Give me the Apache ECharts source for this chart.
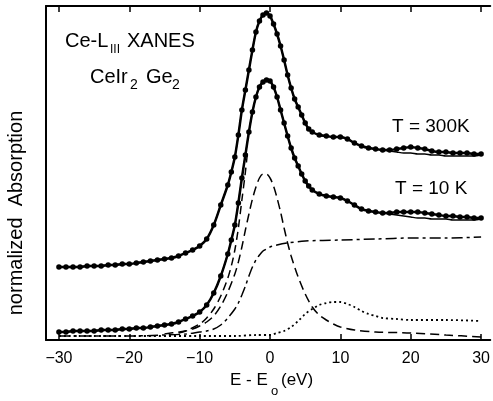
<!DOCTYPE html>
<html>
<head>
<meta charset="utf-8">
<script src="https://cdn.jsdelivr.net/npm/echarts@6/dist/echarts.min.js"></script>
<style>
html,body{margin:0;padding:0;background:#fff;}
#chart{width:493px;height:401px;}
</style>
</head>
<body>
<div id="chart"></div>
<script>
// Energy grid (E - E0, eV) for the measured spectra
var energyData = [-30,-29,-28,-27,-26,-25,-24,-23,-22,-21,-20,-19,-18,-17,-16,-15,-14,-13,-12,-11,-10,-9,-8,-7,-6,-5.5,-5,-4.5,-4,-3.5,-3,-2.5,-2,-1.5,-1,-0.5,0,0.5,1,1.5,2,2.5,3,3.5,4,4.5,5,5.5,6,7,8,9,10,11,12,13,14,15,16,17,18,19,20,21,22,23,24,25,26,27,28,29,30];
// T = 300 K measured absorption (arb. units)
var abs300K = [73,73,73,73,74,74,74,75,75,76,76,77,78,79,80,81,82,84,87,90,94,101,115,135,155,168,183,205,230,250,270,290,308,319,325,327,324,316,306,294,280,265,252,241,233,225,217,211,208,205,204,203,203,201,197,194,192,191,190,190,191,192,193,192,191,189,188,188,187,187,187,186,186];
// T = 300 K fit
var fit300K = [73,73,73,73,74,74,74,75,75,76,76,77,78,79,80,81,82,84,87,90,94,101,115,135,155,168,183,205,230,250,270,290,308,319,325,327,324,316,306,294,280,265,252,241,233,225,217,211,208,205,204,203,203,201,197,194,192,191,190,189,188,187,187,186,186,185,185,184,184,184,184,184,185];
// T = 10 K measured absorption
var abs10K = [8,8,9,9,9,9,10,10,10,11,11,12,12,13,14,15,16,18,21,24,28,35,47,64,86,100,115,137,162,185,208,228,243,253,258,260,259,253,243,230,217,204,192,182,174,166,159,154,150,146,144,143,142,139,135,131,129,128,127,127,128,128,128,128,127,126,125,124,124,123,123,122,122];
// T = 10 K fit
var fit10K = [8,8,9,9,9,9,10,10,10,11,11,12,12,13,14,15,16,18,21,24,28,35,47,64,86,100,115,137,162,185,208,228,243,253,258,260,259,253,243,230,217,204,192,182,174,166,159,154,150,146,144,143,142,139,135,131,129,128,127,126,125,124,123,122,122,121,121,121,120,120,120,120,121];

// White-line + edge partial sum (dashed, left side)
var sumE = [-13,-12,-10,-9,-8,-7,-6,-5.5,-5,-4.5,-4,-3.5,-3.2];
var sumAbs = [7,9,16,22,31,44,62,74,90,112,140,168,188];

// Lorentzian white line component
var lorE = [-15,-13,-12,-11,-10,-9,-8,-7,-6,-5,-4.5,-4,-3.5,-3,-2.5,-2,-1.5,-1,-0.5,0,0.5,1,1.5,2,2.5,3,3.5,4,5,6,7,8,9,10,12,15,20,25,30];
var lorAbs = [6,8,9,11,14,18,24,34,48,66,78,93,110,126,141,153,162,166,166,162,154,142,128,112,97,84,73,63,46,33,25,20,16,13,10,8,7,5,3];

// Arctangent edge step
var stepE = [-30,-20,-15,-12,-10,-9,-8,-7,-6,-5,-4.5,-4,-3.5,-3,-2.5,-2,-1.5,-1,-0.5,0,1,2.5,5,10,15,20,25,30];
var stepAbs = [4,4,5,6,8,9,11,15,22,31,37,45,54,64,73,80,85,89,91,93,95,97,99,100,101,102,102,103];

// Gaussian continuum resonance
var gauE = [-30,-20,-10,-5,-2,0,1,2,3,4,5,6,7,8,9,10,11,12,13,14,15,16,18,20,25,30];
var gauAbs = [4,4,4,4,5,5,7,9,13,19,26,31,35,37,38,38,36,33,29,26,24,22,21,20,20,19];

var xTicks = [-30,-20,-10,0,10,20,30];

function pairs(xs, ys){ return xs.map(function(x,i){ return [x, ys[i]]; }); }

var FONT = '"Liberation Sans", Arial, sans-serif';
var chart = echarts.init(document.getElementById('chart'));

var xCommon = {
  type:'value', min:-31.84, max:31.3,
  splitLine:{show:false},
  axisLine:{show:true, onZero:false, lineStyle:{color:'#000', width:2}},
  axisTick:{show:true, inside:true, length:6, customValues:xTicks, lineStyle:{color:'#000', width:1.5}}
};

chart.setOption({
  animation:false,
  backgroundColor:'#fff',
  grid:{left:46, right:0, top:6, bottom:61, containLabel:false},
  xAxis:[
    Object.assign({}, xCommon, {
      position:'bottom',
      axisLabel:{show:true, customValues:xTicks, margin:11, color:'#000', fontSize:16, fontFamily:FONT,
        formatter:function(v){ return String(v).replace('-', '\u2212'); }}
    }),
    Object.assign({}, xCommon, {
      position:'top',
      axisLabel:{show:false}
    })
  ],
  yAxis:{
    type:'value', min:0, max:334, position:'left',
    splitLine:{show:false},
    axisLine:{show:true, onZero:false, lineStyle:{color:'#000', width:2}},
    axisTick:{show:false}, axisLabel:{show:false}
  },
  series:[
    {type:'line', data:pairs(gauE, gauAbs), smooth:0.3, symbol:'none',
      lineStyle:{color:'#000', width:1.8, type:[2,3]}},
    {type:'line', data:pairs(stepE, stepAbs), smooth:0.3, symbol:'none',
      lineStyle:{color:'#000', width:1.5, type:[11,4,3,4]}},
    {type:'line', data:pairs(lorE, lorAbs), smooth:0.3, symbol:'none',
      lineStyle:{color:'#000', width:1.5, type:[9,5]}},
    {type:'line', data:pairs(sumE, sumAbs), smooth:0.3, symbol:'none',
      lineStyle:{color:'#000', width:1.5, type:[8,5]}},
    {type:'line', data:pairs(energyData, fit300K), smooth:0.3, symbol:'none',
      lineStyle:{color:'#000', width:1.3}},
    {type:'line', data:pairs(energyData, fit10K), smooth:0.3, symbol:'none',
      lineStyle:{color:'#000', width:1.3}},
    {type:'line', data:pairs(energyData, abs300K), smooth:0.3, symbol:'circle', symbolSize:5.5, showAllSymbol:true,
      itemStyle:{color:'#000'}, lineStyle:{color:'#000', width:2.5}},
    {type:'line', data:pairs(energyData, abs10K), smooth:0.3, symbol:'circle', symbolSize:5.5, showAllSymbol:true,
      itemStyle:{color:'#000'}, lineStyle:{color:'#000', width:2.5}}
  ],
  graphic:[
    {type:'text', x:65, y:41, style:{text:'Ce-L', fontSize:20, fontFamily:FONT, fill:'#000', verticalAlign:'middle'}},
    {type:'text', x:110, y:50, style:{text:'III', fontSize:12, fontFamily:FONT, fill:'#000', verticalAlign:'middle'}},
    {type:'text', x:127, y:41, style:{text:'XANES', fontSize:20, fontFamily:FONT, fill:'#000', verticalAlign:'middle'}},
    {type:'text', x:90, y:77, style:{text:'CeIr', fontSize:20, fontFamily:FONT, fill:'#000', verticalAlign:'middle'}},
    {type:'text', x:130, y:85, style:{text:'2', fontSize:14, fontFamily:FONT, fill:'#000', verticalAlign:'middle'}},
    {type:'text', x:146, y:77, style:{text:'Ge', fontSize:20, fontFamily:FONT, fill:'#000', verticalAlign:'middle'}},
    {type:'text', x:172, y:85, style:{text:'2', fontSize:14, fontFamily:FONT, fill:'#000', verticalAlign:'middle'}},
    {type:'text', x:392, y:127, style:{text:'T = 300K', fontSize:19, fontFamily:FONT, fill:'#000', verticalAlign:'middle'}},
    {type:'text', x:395, y:189, style:{text:'T = 10 K', fontSize:19, fontFamily:FONT, fill:'#000', verticalAlign:'middle'}},
    {type:'text', x:230, y:380, style:{text:'E - E', fontSize:17, fontFamily:FONT, fill:'#000', verticalAlign:'middle'}},
    {type:'text', x:271, y:391, style:{text:'o', fontSize:13, fontFamily:FONT, fill:'#000', verticalAlign:'middle'}},
    {type:'text', x:281, y:380, style:{text:'(eV)', fontSize:17, fontFamily:FONT, fill:'#000', verticalAlign:'middle'}},
    {type:'text', x:16, y:213, rotation:Math.PI/2, style:{text:'normalized  Absorption', fontSize:20, fontFamily:FONT, fill:'#000', align:'center', verticalAlign:'middle'}}
  ]
});
</script>
</body>
</html>
